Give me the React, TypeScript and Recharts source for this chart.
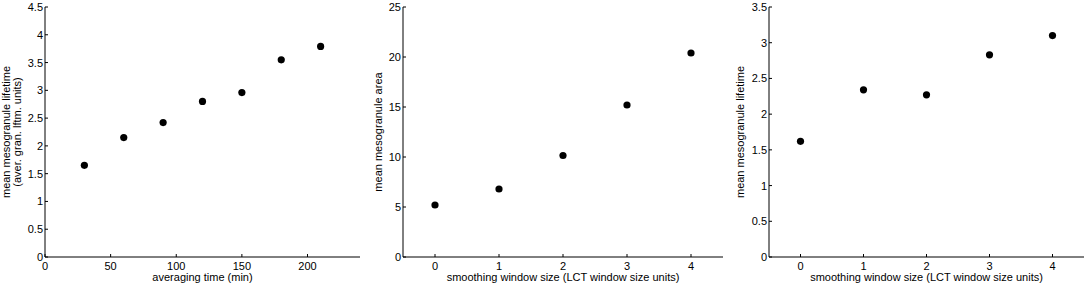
import { ScatterChart, Scatter, XAxis, YAxis } from 'recharts';

const avgTime = [30, 60, 90, 120, 150, 180, 210];
const lifetimeByAvg = [1.65, 2.15, 2.42, 2.8, 2.96, 3.55, 3.79];

const windowSize = [0, 1, 2, 3, 4];
const areaByWindow = [5.2, 6.8, 10.15, 15.2, 20.4];
const lifetimeByWindow = [1.62, 2.34, 2.27, 2.83, 3.1];

const ticksTime = [0, 50, 100, 150, 200];
const ticksWindow = [0, 1, 2, 3, 4];
const ticksLifetime1 = [0, 0.5, 1, 1.5, 2, 2.5, 3, 3.5, 4, 4.5];
const ticksArea = [0, 5, 10, 15, 20, 25];
const ticksLifetime2 = [0, 0.5, 1, 1.5, 2, 2.5, 3, 3.5];

const FONT = '"Liberation Sans", Arial, Helvetica, sans-serif';
const TICK = 3;

const BottomTick = (p: any) => (
  <g>
    <line x1={p.x} x2={p.x} y1={p.y} y2={p.y - TICK} stroke="#000" />
    <text x={p.x} y={p.y + 13} textAnchor="middle" fontSize={11} fontFamily={FONT} fill="#000">
      {p.payload.value}
    </text>
  </g>
);
const TopTick = (p: any) => <line x1={p.x} x2={p.x} y1={p.y} y2={p.y + TICK} stroke="#000" />;
const LeftTick = (p: any) => (
  <g>
    <line x1={p.x} x2={p.x + TICK} y1={p.y} y2={p.y} stroke="#000" />
    <text x={p.x - 2} y={p.y + 4} textAnchor="end" fontSize={11} fontFamily={FONT} fill="#000">
      {p.payload.value}
    </text>
  </g>
);
const RightTick = (p: any) => <line x1={p.x} x2={p.x - TICK} y1={p.y} y2={p.y} stroke="#000" />;

interface PanelProps {
  left: number;
  width: number;
  yWidth: number;
  xs: number[];
  ys: number[];
  xDomain: [number, number];
  yDomain: [number, number];
  xTicks: number[];
  yTicks: number[];
  xLabel: string;
  yLabel: string[];
  yLabelX: number[];
}

function Panel(props: PanelProps) {
  const data = props.xs.map((x, i) => ({ x, y: props.ys[i] }));
  const height = 285;
  const top = 7;
  const plotLeft = props.yWidth;
  const plotRight = props.width - 1;
  const cx = (plotLeft + plotRight) / 2;
  const cy = (top + 257) / 2;
  return (
    <div style={{ position: 'absolute', left: props.left, top: 0 }}>
      <ScatterChart width={props.width} height={height} margin={{ top, right: 1, bottom: 0, left: 0 }}>
        <XAxis
          xAxisId="b"
          dataKey="x"
          type="number"
          domain={props.xDomain}
          ticks={props.xTicks}
          interval={0}
          height={28}
          tickSize={0}
          tickMargin={0}
          tickLine={false}
          tick={BottomTick}
          axisLine={{ stroke: '#000' }}
          label={{
            content: () => (
              <text x={cx} y={281} textAnchor="middle" fontSize={11} fontFamily={FONT} fill="#000">
                {props.xLabel}
              </text>
            ),
          }}
        />
        <XAxis
          xAxisId="t"
          orientation="top"
          type="number"
          domain={props.xDomain}
          ticks={props.xTicks}
          interval={0}
          height={0}
          tickSize={0}
          tickLine={false}
          tick={TopTick}
          axisLine={{ stroke: '#000' }}
        />
        <YAxis
          yAxisId="l"
          dataKey="y"
          type="number"
          domain={props.yDomain}
          ticks={props.yTicks}
          interval={0}
          width={props.yWidth}
          tickSize={0}
          tickMargin={0}
          tickLine={false}
          tick={LeftTick}
          axisLine={{ stroke: '#000' }}
          label={{
            content: () => (
              <g>
                {props.yLabel.map((line, i) => (
                  <text
                    key={i}
                    x={props.yLabelX[i]}
                    y={cy}
                    transform={`rotate(-90 ${props.yLabelX[i]} ${cy})`}
                    textAnchor="middle"
                    fontSize={11}
                    fontFamily={FONT}
                    fill="#000"
                  >
                    {line}
                  </text>
                ))}
              </g>
            ),
          }}
        />
        <YAxis
          yAxisId="r"
          orientation="right"
          type="number"
          domain={props.yDomain}
          ticks={props.yTicks}
          interval={0}
          width={0}
          tickSize={0}
          tickLine={false}
          tick={RightTick}
          axisLine={{ stroke: '#000' }}
        />
        <Scatter
          xAxisId="b"
          yAxisId="l"
          data={data}
          fill="#000"
          shape={(p: any) => <circle cx={p.cx} cy={p.cy} r={3.6} fill="#000" />}
          isAnimationActive={false}
        />
      </ScatterChart>
    </div>
  );
}

export default function App() {
  return (
    <div style={{ position: 'absolute', left: 0, top: 0, width: 1085, height: 285, background: '#fff' }}>
      <Panel
        left={0}
        width={361}
        yWidth={45}
        xs={avgTime}
        ys={lifetimeByAvg}
        xDomain={[0, 240]}
        yDomain={[0, 4.5]}
        xTicks={ticksTime}
        yTicks={ticksLifetime1}
        xLabel="averaging time (min)"
        yLabel={['mean mesogranule lifetime', '(aver. gran. lftm. units)']}
        yLabelX={[10, 21]}
      />
      <Panel
        left={360}
        width={364}
        yWidth={43}
        xs={windowSize}
        ys={areaByWindow}
        xDomain={[-0.5, 4.5]}
        yDomain={[0, 25]}
        xTicks={ticksWindow}
        yTicks={ticksArea}
        xLabel="smoothing window size (LCT window size units)"
        yLabel={['mean mesogranule area']}
        yLabelX={[21.5]}
      />
      <Panel
        left={725}
        width={360}
        yWidth={44}
        xs={windowSize}
        ys={lifetimeByWindow}
        xDomain={[-0.5, 4.5]}
        yDomain={[0, 3.5]}
        xTicks={ticksWindow}
        yTicks={ticksLifetime2}
        xLabel="smoothing window size (LCT window size units)"
        yLabel={['mean mesogranule lifetime']}
        yLabelX={[19]}
      />
    </div>
  );
}
